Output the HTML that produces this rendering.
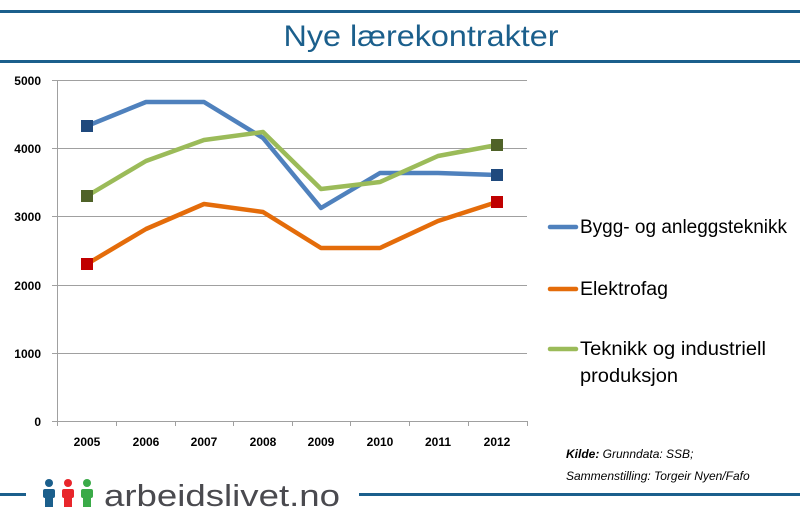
<!DOCTYPE html>
<html><head><meta charset="utf-8"><style>
body{margin:0;background:#fff;}
svg{display:block;font-family:"Liberation Sans",sans-serif;}
</style></head><body>
<svg width="800" height="522" viewBox="0 0 800 522">
<rect width="800" height="522" fill="#fff"/>
<rect x="0" y="10" width="800" height="3" fill="#1b5f8c"/>
<rect x="0" y="60" width="800" height="3" fill="#1b5f8c"/>
<text x="421" y="46" text-anchor="middle" font-size="30" fill="#1b5f8c" font-family="'Liberation Sans Narrow','Liberation Sans',sans-serif" textLength="275" lengthAdjust="spacingAndGlyphs">Nye lærekontrakter</text>
<g stroke="#a0a0a0" stroke-width="1">
<line x1="57" y1="80.5" x2="527" y2="80.5"/>
<line x1="57" y1="148.5" x2="527" y2="148.5"/>
<line x1="57" y1="216.5" x2="527" y2="216.5"/>
<line x1="57" y1="285.5" x2="527" y2="285.5"/>
<line x1="57" y1="353.5" x2="527" y2="353.5"/>
<line x1="57" y1="421.5" x2="527" y2="421.5"/>
<line x1="57.5" y1="80" x2="57.5" y2="426"/>
<line x1="52" y1="80.5" x2="57" y2="80.5"/><line x1="52" y1="148.5" x2="57" y2="148.5"/><line x1="52" y1="216.5" x2="57" y2="216.5"/><line x1="52" y1="285.5" x2="57" y2="285.5"/><line x1="52" y1="353.5" x2="57" y2="353.5"/><line x1="52" y1="421.5" x2="57" y2="421.5"/>
<line x1="116.5" y1="421" x2="116.5" y2="426"/><line x1="175.5" y1="421" x2="175.5" y2="426"/><line x1="233.5" y1="421" x2="233.5" y2="426"/><line x1="292.5" y1="421" x2="292.5" y2="426"/><line x1="350.5" y1="421" x2="350.5" y2="426"/><line x1="409.5" y1="421" x2="409.5" y2="426"/><line x1="468.5" y1="421" x2="468.5" y2="426"/><line x1="527.5" y1="421" x2="527.5" y2="426"/>
</g>
<g font-size="12" font-weight="bold" fill="#000" text-anchor="end">
<text x="41" y="85">5000</text><text x="41" y="153">4000</text><text x="41" y="221">3000</text><text x="41" y="290">2000</text><text x="41" y="358">1000</text><text x="41" y="426">0</text>
</g>
<g font-size="12" font-weight="bold" fill="#000" text-anchor="middle">
<text x="87" y="446">2005</text><text x="146" y="446">2006</text><text x="204" y="446">2007</text><text x="263" y="446">2008</text><text x="321" y="446">2009</text><text x="380" y="446">2010</text><text x="438" y="446">2011</text><text x="497" y="446">2012</text>
</g>
<g fill="none" stroke-width="4.5" stroke-linejoin="round">
<polyline stroke="#4f81bd" points="87,126 146,102 204,102 263,138 321,208 380,173 438,173 497,175"/>
<polyline stroke="#e46c0a" points="87,264 146,229 204,204 263,212 321,248 380,248 438,221 497,202"/>
<polyline stroke="#9bbb59" points="87,196 146,161 204,140 263,132 321,189 380,182 438,156 497,145"/>
</g>
<rect x="81" y="120" width="12" height="12" fill="#1f497d"/><rect x="491" y="169" width="12" height="12" fill="#1f497d"/>
<rect x="81" y="258" width="12" height="12" fill="#c00000"/><rect x="491" y="196" width="12" height="12" fill="#c00000"/>
<rect x="81" y="190" width="12" height="12" fill="#4f6228"/><rect x="491" y="139" width="12" height="12" fill="#4f6228"/>
<g stroke-width="4.5" stroke-linecap="round">
<line x1="550" y1="227" x2="576" y2="227" stroke="#4f81bd"/>
<line x1="550" y1="289" x2="576" y2="289" stroke="#e46c0a"/>
<line x1="550" y1="349" x2="576" y2="349" stroke="#9bbb59"/>
</g>
<g font-size="19" fill="#000">
<text x="580" y="233" textLength="207" lengthAdjust="spacingAndGlyphs">Bygg- og anleggsteknikk</text>
<text x="580" y="295" textLength="88" lengthAdjust="spacingAndGlyphs">Elektrofag</text>
<text x="580" y="355" textLength="186" lengthAdjust="spacingAndGlyphs">Teknikk og industriell</text>
<text x="580" y="382" textLength="98" lengthAdjust="spacingAndGlyphs">produksjon</text>
</g>
<g font-size="12" font-style="italic" fill="#000">
<text x="566" y="458"><tspan font-weight="bold">Kilde:</tspan> Grunndata: SSB;</text>
<text x="566" y="480">Sammenstilling: Torgeir Nyen/Fafo</text>
</g>
<rect x="0" y="493" width="26" height="3" fill="#1b5f8c"/>
<rect x="359" y="493" width="441" height="3" fill="#1b5f8c"/>
<g>
<circle cx="49" cy="483" r="4" fill="#1b5f8c"/><rect x="43" y="489" width="12" height="9" rx="2" fill="#1b5f8c"/><rect x="45" y="496" width="8" height="11" fill="#1b5f8c"/>
<circle cx="68" cy="483" r="4" fill="#e8262b"/><rect x="62" y="489" width="12" height="9" rx="2" fill="#e8262b"/><rect x="64" y="496" width="8" height="11" fill="#e8262b"/>
<circle cx="87" cy="483" r="4" fill="#3aaa48"/><rect x="81" y="489" width="12" height="9" rx="2" fill="#3aaa48"/><rect x="83" y="496" width="8" height="11" fill="#3aaa48"/>
</g>
<text x="104" y="506" font-size="31" fill="#4a4a4f" textLength="236" lengthAdjust="spacingAndGlyphs">arbeidslivet.no</text>
</svg>
</body></html>
